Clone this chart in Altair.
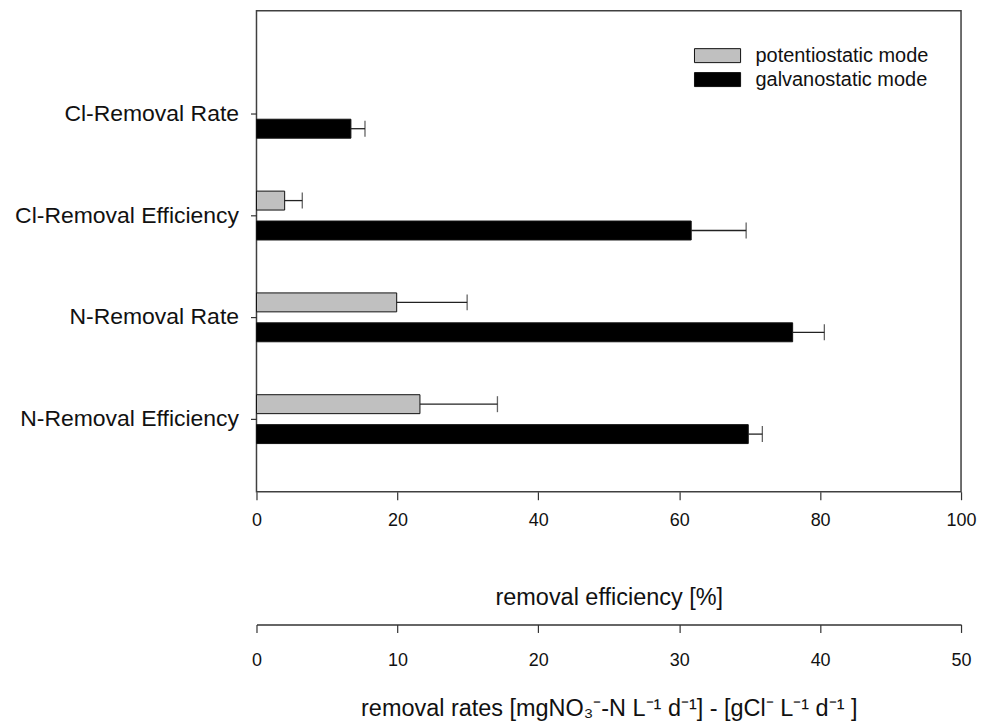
import altair as alt
import pandas as pd

categories = ["Cl-Removal Rate", "Cl-Removal Efficiency", "N-Removal Rate", "N-Removal Efficiency"]
modes = ["potentiostatic mode", "galvanostatic mode"]
mode_colors = ["#c0c0c0", "#000000"]
potentiostatic_values = [None, 4.0, 19.9, 23.2]
potentiostatic_errors = [None, 2.5, 10.0, 11.0]
galvanostatic_values = [13.4, 61.7, 76.1, 69.8]
galvanostatic_errors = [2.0, 7.8, 4.5, 2.0]
efficiency_ticks = [0, 20, 40, 60, 80, 100]
rate_ticks = [0, 10, 20, 30, 40, 50]

rows = []
for cat, pv, pe, gv, ge in zip(categories, potentiostatic_values, potentiostatic_errors,
                               galvanostatic_values, galvanostatic_errors):
    if pv is not None:
        rows.append({"category": cat, "mode": modes[0], "value": pv, "err": pe})
    if gv is not None:
        rows.append({"category": cat, "mode": modes[1], "value": gv, "err": ge})
df = pd.DataFrame(rows)
rate_df = pd.DataFrame({"rate": rate_ticks})

FONT = "Liberation Sans"
INK = "#222222"

y_enc = alt.Y(
    "category:N", sort=categories,
    scale=alt.Scale(domain=categories, paddingInner=0.52, paddingOuter=0.6225, align=0.62),
    axis=alt.Axis(title=None, domain=False, tickSize=6, tickColor="#333333", tickWidth=1.2,
                  labelFontSize=23, labelPadding=12, labelColor="#111111", labelLimit=0),
)
yoff_enc = alt.YOffset("mode:N", sort=modes,
                       scale=alt.Scale(domain=modes, paddingInner=0.367, paddingOuter=0))

x_scale = alt.Scale(domain=[0, 100], nice=False, zero=True)
x_axis = alt.Axis(values=efficiency_ticks, title="removal efficiency [%]", domain=False,
                  tickSize=8, tickColor="#333333", tickWidth=1.2, labelFontSize=18,
                  labelPadding=12, labelFlush=False, titleFontSize=23.5, titlePadding=56,
                  titleFontWeight="normal", grid=False,
                  labelColor="#111111", titleColor="#111111")

base = alt.Chart(df).transform_calculate(upper="datum.value + datum.err")

bars = base.mark_bar(stroke="#111111", strokeWidth=1).encode(
    x=alt.X("value:Q", scale=x_scale, axis=x_axis),
    y=y_enc,
    yOffset=yoff_enc,
    color=alt.Color("mode:N", scale=alt.Scale(domain=modes, range=mode_colors),
                    legend=alt.Legend(title=None, orient="none", legendX=452, legendY=35,
                                      symbolType="M-3.3,-1H3.3V1H-3.3Z", symbolSize=196,
                                      symbolStrokeColor="#111111", symbolStrokeWidth=1,
                                      labelFontSize=20, labelOffset=28, rowPadding=4,
                                      padding=0, labelColor="#111111", labelLimit=0)),
)

whiskers = base.mark_rule(color=INK, strokeWidth=1.3).encode(
    x=alt.X("value:Q", scale=x_scale, axis=x_axis),
    x2="upper:Q",
    y=y_enc,
    yOffset=yoff_enc,
)

caps = base.mark_tick(color=INK, thickness=1.3, size=16).encode(
    x=alt.X("upper:Q", scale=x_scale, axis=x_axis),
    y=y_enc,
    yOffset=yoff_enc,
)

rate_axis = alt.Chart(rate_df).mark_point(opacity=0).encode(
    x=alt.X("rate:Q", scale=alt.Scale(domain=[0, 50], nice=False, zero=True),
            axis=alt.Axis(orient="bottom", offset=133, values=rate_ticks,
                          title="removal rates [mgNO\u2083\u207b-N L\u207b\u00b9 d\u207b\u00b9] - [gCl\u207b L\u207b\u00b9 d\u207b\u00b9 ]",
                          domain=True, domainColor="#333333", domainWidth=1.5,
                          tickSize=8, tickColor="#333333", tickWidth=1.2, labelFontSize=18,
                          labelPadding=19, labelFlush=False, titleFontSize=23.5, titlePadding=27,
                          titleFontWeight="normal", grid=False,
                          labelColor="#111111", titleColor="#111111")),
)

chart = (
    alt.layer(alt.layer(bars, whiskers, caps), rate_axis)
    .resolve_scale(x="independent")
    .properties(width=706, height=482,
                padding={"left": 6, "top": 2, "right": 0, "bottom": 0})
    .configure_view(stroke="#404040", strokeWidth=1.5)
    .configure_axis(labelFont=FONT, titleFont=FONT)
    .configure_legend(labelFont=FONT)
)

chart.save("out.html", embed_options={"renderer": "svg", "actions": False})
